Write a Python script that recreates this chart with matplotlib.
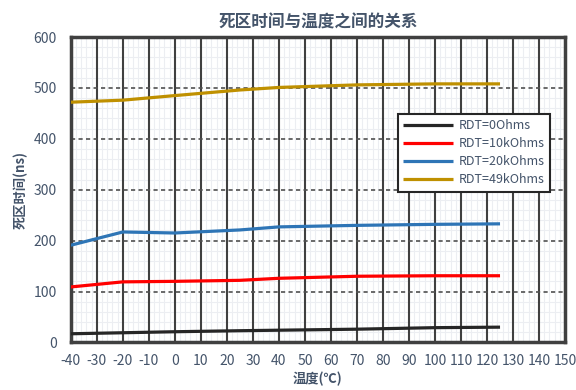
import numpy as np
import matplotlib
matplotlib.use('Agg')
import matplotlib.pyplot as plt
from matplotlib.ticker import MultipleLocator

plt.rcParams['font.family'] = ['Noto Sans CJK SC', 'DejaVu Sans']
plt.rcParams['axes.unicode_minus'] = False

# Data
temps = [-40, -20, 0, 25, 40, 70, 100, 125]
rdt_0k = [17, 19, 21, 23, 24, 26, 29, 30]
rdt_10k = [109, 119, 120, 122, 126, 130, 131, 131]
rdt_20k = [191, 217, 215, 221, 227, 230, 232, 233]
rdt_49k = [472, 476, 485, 496, 501, 506, 508, 508]
labels = ['RDT=0Ohms', 'RDT=10kOhms', 'RDT=20kOhms', 'RDT=49kOhms']
colors = ['#262626', '#ff0000', '#2e75b6', '#bf9000']

txt = '#44546a'

fig = plt.figure(figsize=(5.76, 3.9), dpi=100)
ax = fig.add_axes([0.123, 0.122, 0.858, 0.783])

ax.set_xlim(-40, 150)
ax.set_ylim(0, 600)

# Grid: light minor lines underneath, dark majors on top of them
ax.xaxis.set_major_locator(MultipleLocator(10))
ax.xaxis.set_minor_locator(MultipleLocator(2))
ax.yaxis.set_major_locator(MultipleLocator(100))
ax.yaxis.set_minor_locator(MultipleLocator(20))
ax.grid(which='minor', color='#eceef2', lw=0.8)
ax.set_axisbelow(True)
for xv in np.arange(-30, 150, 10):
    ax.axvline(xv, color='#404040', lw=1.5, zorder=1)
for yv in np.arange(100, 600, 100):
    ax.axhline(yv, color='#505050', lw=1.2, ls=(0, (2.5, 2)), zorder=1.1)

for series, lab, c in zip([rdt_0k, rdt_10k, rdt_20k, rdt_49k], labels, colors):
    ax.plot(temps, series, color=c, lw=2.3, label=lab, solid_capstyle='butt', zorder=3)

for s in ax.spines.values():
    s.set_color('#404040')
    s.set_linewidth(2.5)

ax.tick_params(which='both', length=0, colors=txt, labelsize=10)
ax.tick_params(axis='x', pad=8)
ax.tick_params(axis='y', pad=10)

ax.set_title('死区时间与温度之间的关系', color=txt, fontsize=12, fontweight='bold', pad=7)
ax.set_xlabel('温度(℃)', color=txt, fontsize=9.5, fontweight='bold', labelpad=3)
ax.set_ylabel('死区时间(ns)', color=txt, fontsize=9.5, fontweight='bold', labelpad=4)

leg = ax.legend(loc='upper right', bbox_to_anchor=(0.982, 0.77), fontsize=9,
                handlelength=4.0, fancybox=False, framealpha=1, edgecolor='#262626',
                borderpad=0.45, labelspacing=0.4, handletextpad=0.4)
leg.get_frame().set_linewidth(1.5)
leg.set_zorder(5)
for t in leg.get_texts():
    t.set_color(txt)

fig.savefig('out.png', dpi=100)
